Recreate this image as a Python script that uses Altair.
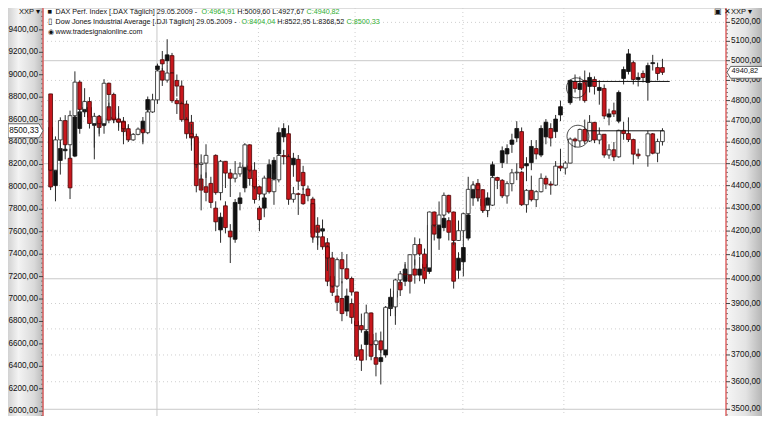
import altair as alt
import pandas as pd

# ---------------- data ----------------
month_days = {
    "2008-12": [1, 2, 3, 4, 5, 8, 9, 10, 11, 12, 15, 16, 17, 18, 19, 22, 23, 24, 26, 29, 30, 31],
    "2009-01": [2, 5, 6, 7, 8, 9, 12, 13, 14, 15, 16, 19, 20, 21, 22, 23, 26, 27, 28, 29, 30],
    "2009-02": [2, 3, 4, 5, 6, 9, 10, 11, 12, 13, 16, 17, 18, 19, 20, 23, 24, 25, 26, 27],
    "2009-03": [2, 3, 4, 5, 6, 9, 10, 11, 12, 13, 16, 17, 18, 19, 20, 23, 24, 25, 26, 27, 30, 31],
    "2009-04": [1, 2, 3, 6, 7, 8, 9, 13, 14, 15, 16, 17, 20, 21, 22, 23, 24, 27, 28, 29, 30],
    "2009-05": [1, 4, 5, 6, 7, 8, 11, 12, 13, 14, 15, 18, 19, 20, 21, 22, 25, 26, 27, 28, 29],
}
dates = [f"{m}-{d:02d}" for m, days in month_days.items() for d in days]

N = None
# Dow Jones Industrial Average (left axis)
dow_open = [8829, 8149, 8419, 8591, 8376, 8635, 8934, 8691, 8761, 8565, 8629, 8564, 8924, 8824, 8604, 8579, 8519, 8419, 8468, 8515, 8483, 8668,
            8776, 9034, 8952, 9015, 8769, 8742, 8599, 8474, 8448, 8200, 8212, N, 8281, 7949, 8228, 8123, 8077, 8116, 8175, 8375, 8149,
            8001, 7936, 8078, 7957, 8063, 8280, 8270, 7889, 7939, 7933, N, 7850, 7552, 7555, 7466, 7366, 7115, 7351, 7270, 7183,
            7063, 6763, 6726, 6876, 6594, 6627, 6547, 6926, 6930, 7170, 7224, 7217, 7395, 7486, 7401, 7278, 7776, 7660, 7749, 7924, 7776, 7522,
            7609, 7761, 7978, 8017, 7975, 7789, 7837, 8083, 8058, 7920, 8029, 8125, 8131, 7841, 7969, 7886, 7957, 8076, 8025, 8016, 8185,
            8168, 8212, 8426, 8410, 8512, 8409, 8575, 8418, 8469, 8284, 8331, 8268, 8504, 8475, 8422, 8292, N, 8277, 8473, 8300, 8404.04]
dow_high = [8829, 8450, 8620, 8640, 8680, 9030, 8950, 8880, 8800, 8660, 8640, 8960, 8930, 8840, 8720, 8600, 8560, 8480, 8530, 8530, 8700, 8830,
            9050, 9060, 9090, 9020, 8790, 8760, 8620, 8560, 8450, 8290, 8380, N, 8290, 8240, 8230, 8160, 8230, 8220, 8390, 8380, 8220,
            8010, 8100, 8200, 8120, 8320, 8330, 8290, 8000, 7950, 7990, N, 7850, 7640, 7640, 7480, 7420, 7370, 7420, 7400, 7200,
            7063, 6870, 6950, 6880, 6700, 6710, 6930, 7050, 7180, 7250, 7330, 7400, 7550, 7540, 7450, 7780, 7780, 7870, 7950, 7930, 7780, 7700,
            7770, 8090, 8030, 8020, 7980, 7880, 8090, 8090, 8070, 8050, 8160, 8210, 8140, 7980, 8100, 7970, 8120, 8100, 8050, 8230, 8340,
            8230, 8440, 8440, 8520, 8600, 8640, 8580, 8530, 8470, 8380, 8400, 8510, 8580, 8620, 8430, 8340, N, 8500, 8480, 8430, 8522.95]
dow_low = [8141, 8130, 8330, 8330, 8250, 8620, 8650, 8650, 8520, 8350, 8450, 8540, 8700, 8570, 8500, 8380, 8400, 8410, 8460, 8380, 8470, 8660,
           8740, 8900, 8930, 8750, 8650, 8580, 8430, 8370, 8170, 7980, 8080, N, 7930, 7880, 7990, 7910, 8040, 8090, 8170, 8130, 7980,
           7880, 7880, 7940, 7840, 8040, 8200, 7840, 7860, 7750, 7840, N, 7530, 7480, 7440, 7250, 7100, 7100, 7140, 7170, 7030,
           6760, 6700, 6720, 6580, 6470, 6520, 6540, 6890, 6770, 7120, 7200, 7150, 7300, 7380, 7250, 7270, 7640, 7630, 7740, 7760, 7480, 7520,
           7500, 7760, 7900, 7870, 7770, 7730, 7830, 7980, 7900, 7850, 7960, 8060, 7830, 7770, 7870, 7820, 7950, 7980, 7930, 8010, 8140,
           8110, 8210, 8350, 8360, 8380, 8400, 8390, 8380, 8260, 8250, 8230, 8260, 8420, 8400, 8200, 8250, N, 8180, 8290, 8220, 8368.52]
dow_close = [8149, 8419, 8591, 8376, 8635, 8934, 8691, 8761, 8565, 8629, 8564, 8924, 8824, 8604, 8579, 8519, 8419, 8468, 8515, 8483, 8668, 8776,
             9034, 8952, 9015, 8769, 8742, 8599, 8474, 8448, 8200, 8212, 8281, N, 7949, 8228, 8123, 8077, 8116, 8175, 8375, 8149, 8001,
             7936, 8078, 7957, 8063, 8280, 8270, 7889, 7939, 7933, 7850, N, 7552, 7555, 7466, 7366, 7115, 7351, 7270, 7183, 7063,
             6763, 6726, 6876, 6594, 6627, 6547, 6926, 6930, 7170, 7224, 7217, 7395, 7486, 7401, 7278, 7776, 7660, 7749, 7924, 7776, 7522, 7609,
             7761, 7978, 8017, 7975, 7789, 7837, 8083, 8058, 7920, 8029, 8125, 8131, 7841, 7969, 7886, 7957, 8076, 8025, 8016, 8185, 8168,
             8212, 8426, 8410, 8512, 8409, 8575, 8418, 8469, 8284, 8331, 8268, 8504, 8475, 8422, 8292, 8277, N, 8473, 8300, 8404, 8500.33]

# DAX Perf. Index (right axis, log)
dax_open = [4670, 4400, 4515, 4560, 4525, 4535, 4665, 4745, 4766, 4680, 4700, 4680, 4770, 4720, 4710, 4700, 4650, N, N, 4650, 4755, N,
            4955, 5005, 5000, 5026, 4900, 4872, 4783, 4695, 4620, 4430, 4395, 4410, 4300, 4205, 4310, 4200, 4165, 4320, 4390, 4490, 4432,
            4300, 4300, 4430, 4430, 4545, 4625, 4640, 4495, 4520, 4460, 4385, 4340, 4225, 4200, 4150, 4010, 3930, 3920, 3870, 3900,
            3830, 3720, 3740, 3780, 3690, 3675, 3700, 3880, 3925, 3985, 3990, 4020, 4040, 4015, 4060, 4030, 4225, 4170, 4215, 4245, 4150, 4035,
            4070, 4170, 4345, 4410, 4340, 4300, 4445, N, 4505, 4545, 4590, 4620, 4650, 4490, 4505, 4570, 4540, 4625, 4665, 4650, 4730,
            N, 4790, 4895, 4855, 4900, 4870, 4905, 4850, 4860, 4720, 4750, 4700, 4910, 4945, 4990, 4905, 4935, 4890, 4985, 4965, 4964.91]
dax_high = [4690, 4490, 4600, 4640, 4570, 4745, 4760, 4790, 4790, 4720, 4730, 4740, 4790, 4780, 4740, 4720, 4680, N, N, 4720, 4820, N,
            4985, 5050, 5111, 5040, 4930, 4900, 4800, 4730, 4640, 4450, 4460, 4440, 4330, 4280, 4330, 4230, 4340, 4370, 4510, 4500, 4450,
            4310, 4370, 4520, 4530, 4670, 4690, 4680, 4550, 4540, 4490, 4400, 4350, 4260, 4250, 4170, 4030, 3960, 3990, 3960, 3920,
            3840, 3740, 3810, 3790, 3740, 3720, 3890, 3960, 3960, 4020, 4060, 4040, 4080, 4090, 4100, 4230, 4240, 4260, 4290, 4260, 4160, 4110,
            4150, 4300, 4420, 4430, 4370, 4370, 4510, N, 4580, 4590, 4640, 4700, 4670, 4530, 4610, 4610, 4680, 4710, 4690, 4730, 4800,
            N, 4905, 4930, 4920, 4950, 4940, 4920, 4900, 4880, 4760, 4790, 4850, 4970, 5060, 5000, 4940, 4950, 4990, 5030, 4990, 5009.60]
dax_low = [4380, 4330, 4450, 4520, 4340, 4530, 4640, 4720, 4700, 4520, 4640, 4640, 4690, 4690, 4670, 4630, 4610, N, N, 4600, 4740, N,
           4820, 4950, 4980, 4920, 4820, 4770, 4690, 4560, 4370, 4290, 4330, 4300, 4200, 4150, 4190, 4065, 4150, 4290, 4370, 4400, 4320,
           4200, 4260, 4410, 4380, 4530, 4600, 4500, 4440, 4380, 4380, 4330, 4150, 4120, 4150, 3970, 3930, 3870, 3830, 3850, 3820,
           3680, 3640, 3680, 3680, 3620, 3590, 3690, 3850, 3850, 3930, 3970, 3940, 3980, 3990, 3980, 4020, 4160, 4120, 4200, 4160, 3960, 4000,
           4010, 4160, 4310, 4330, 4280, 4270, 4420, N, 4480, 4500, 4550, 4600, 4470, 4420, 4470, 4520, 4530, 4590, 4580, 4620, 4700,
           N, 4780, 4840, 4800, 4790, 4840, 4830, 4780, 4710, 4680, 4720, 4690, 4880, 4930, 4880, 4870, 4890, 4800, 4950, 4900, 4927.67]
dax_close = [4394, 4470, 4570, 4567, 4390, 4720, 4745, 4766, 4719, 4690, 4670, 4712, 4705, 4706, 4695, 4650, 4630, N, N, 4700, 4805, N,
             4973, 4984, 5030, 4937, 4872, 4783, 4705, 4620, 4400, 4380, 4370, 4325, 4240, 4260, 4215, 4175, 4325, 4345, 4495, 4432, 4338,
             4250, 4345, 4495, 4515, 4645, 4665, 4525, 4525, 4420, 4400, 4355, 4190, 4195, 4210, 3990, 3945, 3905, 3860, 3930, 3845,
             3695, 3680, 3790, 3695, 3665, 3690, 3880, 3925, 3950, 3955, 4040, 3990, 4015, 4040, 4000, 4225, 4187, 4225, 4255, 4195, 3990, 4085,
             4130, 4270, 4400, 4345, 4310, 4345, 4495, N, 4560, 4570, 4610, 4665, 4480, 4500, 4580, 4545, 4665, 4695, 4620, 4710, 4770,
             N, 4900, 4860, 4885, 4800, 4915, 4870, 4865, 4725, 4735, 4735, 4840, 4955, 5035, 4905, 4915, 4915, 4975, 4990, 4935, 4940.82]

dow_ticks = [6000, 6200, 6400, 6600, 6800, 7000, 7200, 7400, 7600, 7800, 8000, 8200, 8400, 8600, 8800, 9000, 9200, 9400]
dow_tick_labels = ["6000,00", "6200,00", "6400,00", "6600,00", "6800,00", "7000,00", "7200,00", "7400,00", "7600,00",
                   "7800,00", "8000,00", "8200,00", "8400,00", "8600,00", "8800,00", "9000,00", "9200,00", "9400,00"]
dax_ticks = [3500, 3600, 3700, 3800, 3900, 4000, 4100, 4200, 4300, 4400, 4500, 4600, 4700, 4800, 4900, 5000, 5100, 5200]
dax_tick_labels = ["3500,00", "3600,00", "3700,00", "3800,00", "3900,00", "4000,00", "4100,00", "4200,00", "4300,00",
                   "4400,00", "4500,00", "4600,00", "4700,00", "4800,00", "4900,00", "5000,00", "5100,00", "5200,00"]
dax_major_grid = [3500, 4000, 4500, 5000]
month_starts_year = [21.9]                # 2009-01-02 (solid)
month_starts = [42.8, 62.7, 84.9, 105.7]  # Feb, Mar, Apr, May (dotted)

# hand-drawn annotations (data coordinates)
dax_line = {"x0": [106.5], "x1": [127.5], "v": [4895]}
dow_line = {"x0": [110.4], "x1": [126.3], "v": [8500]}
dax_ellipse = {"i": [108.3], "v": [4863]}
dow_ellipse = {"i": [108.6], "v": [8452]}

header_lines = [
    ("■", "DAX Perf. Index [.DAX  Täglich] 29.05.2009 - ", "O:4964,91", "H:5009,60 L:4927,67", "C:4940,82"),
    ("▯", "Dow Jones Industrial Average [.DJI  Täglich] 29.05.2009 - ", "O:8404,04", "H:8522,95 L:8368,52", "C:8500,33"),
]
source_text = "www.tradesignalonline.com"

# ---------------- build ----------------
W, H = 683, 408
PAD_L, PAD_R = 35, 36
XDOM = [-0.54, 138.06]
xs = alt.Scale(domain=XDOM, nice=False, zero=False)
dows = alt.Scale(domain=[5957, 9595], nice=False, zero=False)
daxs = alt.Scale(type="log", domain=[3476, 5277], nice=False)

FONT = "Liberation Sans"
FS = 7.2
AX_FS = 8.2
RED = "#c8171d"
RED_EDGE = "#4a0505"
GREEN = "#2fae2f"
AXIS_RED = "#dc5a5a"

# Arial/Liberation advance widths (1/1000 em) for laying out coloured text runs
AW = {" ": 278, "-": 333, ".": 278, ",": 278, ":": 278, "[": 278, "]": 278,
      "A": 667, "C": 722, "D": 722, "H": 722, "I": 278, "J": 500, "L": 556, "O": 778,
      "P": 667, "T": 611, "X": 667, "a": 556, "c": 500, "d": 556, "e": 556, "f": 278,
      "g": 556, "h": 556, "i": 222, "l": 222, "n": 556, "o": 556, "r": 333, "s": 500,
      "t": 278, "u": 556, "v": 500, "w": 722, "x": 500, "ä": 556}


def tw(s):
    return sum(AW.get(ch, 556) for ch in s) * FS / 1000.0


idx = list(range(len(dates)))
dow_df = pd.DataFrame({"i": idx, "date": dates, "open": dow_open, "high": dow_high,
                       "low": dow_low, "close": dow_close}).dropna()
dax_df = pd.DataFrame({"i": idx, "date": dates, "open": dax_open, "high": dax_high,
                       "low": dax_low, "close": dax_close}).dropna()

X = alt.X("i:Q", scale=xs, axis=None)


def Yd(field):
    return alt.Y(field, scale=dows, axis=None)


def Yx(field):
    return alt.Y(field, scale=daxs, axis=None)


def candles(df, Yf, up_fill, up_edge):
    base = alt.Chart(df)
    wick = base.mark_rule(color="#2b2b2b", strokeWidth=1).encode(
        x=X, y=Yf("low:Q"), y2="high:Q")
    up = "datum.close >= datum.open"
    body = base.mark_bar(width=3.8, strokeWidth=0.8).encode(
        x=X, y=Yf("open:Q"), y2="close:Q",
        fill=alt.condition(up, alt.value(up_fill), alt.value(RED)),
        stroke=alt.condition(up, alt.value(up_edge), alt.value(RED_EDGE)),
    )
    return [wick, body]


def one(**kw):
    return pd.DataFrame({k: [v] for k, v in kw.items()})


def txt(s, x, y, color="#111", size=FS, align="left"):
    return alt.Chart(one(t=s)).mark_text(
        x=x, y=y, align=align, baseline="middle", font=FONT, fontSize=size,
        color=color).encode(text="t:N")


def axis_layers(ticks, labels, Yf, side):
    df = pd.DataFrame({"v": ticks, "lbl": labels})
    if side == "left":
        x0, xt, xl, align = 0, -4, -5, "right"
    else:
        x0, xt, xl, align = W, W + 4, W + 5, "left"
    dom = alt.Chart(one(a=1)).mark_rule(color=AXIS_RED, strokeWidth=1.4).encode(
        x=alt.value(x0), y=alt.value(0), y2=alt.value(H))
    tck = alt.Chart(df).mark_rule(color="#444", strokeWidth=1).encode(
        y=Yf("v:Q"), x=alt.value(min(x0, xt)), x2=alt.value(max(x0, xt)))
    lab = alt.Chart(df).mark_text(x=xl, align=align, baseline="middle", font=FONT,
                                  fontSize=AX_FS, color="#111").encode(y=Yf("v:Q"), text="lbl:N")
    return [dom, tck, lab]


# side panel gradients
left_grad = alt.Chart(one(a=1)).mark_rect(
    x=-PAD_L, x2=0, y=0, y2=H,
    color=alt.LinearGradient(gradient="linear", x1=0, x2=1, y1=0, y2=0,
                             stops=[alt.GradientStop(offset=0, color="#d2d2d2"),
                                    alt.GradientStop(offset=0.3, color="#f3f3f3"),
                                    alt.GradientStop(offset=0.75, color="#dadada"),
                                    alt.GradientStop(offset=1, color="#b9b9b9")]))
right_grad = alt.Chart(one(a=1)).mark_rect(
    x=W, x2=W + PAD_R, y=0, y2=H,
    color=alt.LinearGradient(gradient="linear", x1=0, x2=1, y1=0, y2=0,
                             stops=[alt.GradientStop(offset=0, color="#f6f6f6"),
                                    alt.GradientStop(offset=0.55, color="#e3e3e3"),
                                    alt.GradientStop(offset=1, color="#b6b6b6")]))

grid_df = pd.DataFrame({"v": dax_ticks})
grid_major = alt.Chart(pd.DataFrame({"v": dax_major_grid})).mark_rule(
    color="#c9c9c9", strokeWidth=1).encode(y=Yx("v:Q"), x=alt.value(0), x2=alt.value(W))
grid_minor = alt.Chart(grid_df[~grid_df["v"].isin(dax_major_grid)]).mark_rule(
    color="#cfcfcf", strokeWidth=1, strokeDash=[1, 3]).encode(y=Yx("v:Q"), x=alt.value(0), x2=alt.value(W))
vgrid_year = alt.Chart(pd.DataFrame({"i": month_starts_year})).mark_rule(
    color="#c9c9c9", strokeWidth=1).encode(x=X, y=alt.value(0), y2=alt.value(H))
vgrid_month = alt.Chart(pd.DataFrame({"i": month_starts})).mark_rule(
    color="#cfcfcf", strokeWidth=1, strokeDash=[1, 3]).encode(x=X, y=alt.value(0), y2=alt.value(H))

# minor ticks on both axes
dow_minor = [v for v in range(5960, 9600, 40) if v % 200 != 0]
dax_minor = [v for v in range(3480, 5280, 20) if v % 100 != 0]
dow_minor_t = alt.Chart(pd.DataFrame({"v": dow_minor})).mark_rule(color="#777", strokeWidth=1).encode(
    y=Yd("v:Q"), x=alt.value(-2), x2=alt.value(0))
dax_minor_t = alt.Chart(pd.DataFrame({"v": dax_minor})).mark_rule(color="#777", strokeWidth=1).encode(
    y=Yx("v:Q"), x=alt.value(W), x2=alt.value(W + 2))

# annotations
dax_hline = alt.Chart(pd.DataFrame(dax_line)).mark_rule(color="#111", strokeWidth=1).encode(
    x=alt.X("x0:Q", scale=xs, axis=None), x2="x1:Q", y=Yx("v:Q"))
dow_hline = alt.Chart(pd.DataFrame(dow_line)).mark_rule(color="#111", strokeWidth=1).encode(
    x=alt.X("x0:Q", scale=xs, axis=None), x2="x1:Q", y=Yd("v:Q"))
ELL = "M -1 0 A 1 1 0 1 0 1 0 A 1 1 0 1 0 -1 0 Z"
dax_ell = alt.Chart(pd.DataFrame(dax_ellipse)).mark_point(
    shape=ELL, size=400, filled=False, stroke="#222", strokeWidth=0.8, opacity=1).encode(
    x=alt.X("i:Q", scale=xs, axis=None), y=Yx("v:Q"))
dow_ell = alt.Chart(pd.DataFrame(dow_ellipse)).mark_point(
    shape=ELL, size=480, filled=False, stroke="#222", strokeWidth=0.8, opacity=1).encode(
    x=alt.X("i:Q", scale=xs, axis=None), y=Yd("v:Q"))

# last-price boxes
LBOX = "M -1 -0.4 L 0.78 -0.4 L 1 0 L 0.78 0.4 L -1 0.4 Z"
RBOX = "M -1 0 L -0.8 -0.33 L 1 -0.33 L 1 0.33 L -0.8 0.33 Z"
dow_box = alt.Chart(one(v=8500.33)).mark_point(
    shape=LBOX, size=1225, x=-17.5, filled=True, fill="#ffffff", stroke="#666", strokeWidth=1, opacity=1).encode(
    y=Yd("v:Q"))
dow_box_t = alt.Chart(one(v=8500.33, t="8500,33")).mark_text(
    x=-19, align="center", baseline="middle", font=FONT, fontSize=8.2, color="#111").encode(
    y=Yd("v:Q"), text="t:N")
dax_box = alt.Chart(one(v=4940.82)).mark_point(
    shape=RBOX, size=1296, x=W + 19, filled=True, fill="#ffffff", stroke="#666", strokeWidth=1, opacity=1).encode(
    y=Yx("v:Q"))
dax_box_t = alt.Chart(one(v=4940.82, t="4940,82")).mark_text(
    x=W + 5.5, dy=-1, align="left", baseline="middle", font=FONT, fontSize=7.4, color="#111").encode(
    y=Yx("v:Q"), text="t:N")

# header text (coloured runs laid out one after another)
X0 = 12.5
header = []
for row, (icon, black1, o_txt, hl_txt, c_txt) in enumerate(header_lines):
    y = 4 + 10 * row
    header.append(txt(icon, 4.5, y, size=7.5))
    x = X0
    header.append(txt(black1, x, y)); x += tw(black1)
    header.append(txt(o_txt, x, y, color=GREEN)); x += tw(o_txt + " ")
    header.append(txt(hl_txt, x, y)); x += tw(hl_txt + " ")
    header.append(txt(c_txt, x, y, color=GREEN))
header += [
    txt("◉", 4.5, 24, size=6.5),
    txt(source_text, X0, 24),
    txt("XXP ▾", -3, 4, size=7.5, align="right"),
    txt("▣ ✕", W - 12, 4, size=7.5),
    txt("XXP ▾", W + 5, 4, size=7.5),
]

dax_layer = alt.layer(
    left_grad, right_grad, grid_major, grid_minor, vgrid_year, vgrid_month,
    *candles(dax_df, Yx, "#111111", "#111111"),
    dax_minor_t, *axis_layers(dax_ticks, dax_tick_labels, Yx, "right"),
    dax_hline, dax_ell, dax_box, dax_box_t,
)
dow_layer = alt.layer(
    *candles(dow_df, Yd, "#ffffff", "#222222"),
    dow_minor_t, *axis_layers(dow_ticks, dow_tick_labels, Yd, "left"),
    dow_hline, dow_ell, dow_box, dow_box_t,
    *header,
)

chart = alt.layer(dax_layer, dow_layer).resolve_scale(y="independent").properties(
    width=W, height=H,
    autosize=alt.AutoSizeParams(type="none"),
    padding={"left": PAD_L, "top": 0, "right": PAD_R, "bottom": 0},
).configure_view(stroke=None, fill="#f5f5f5").configure(background="#ffffff")

chart.save("out.html", embed_options={"renderer": "svg", "actions": False})
